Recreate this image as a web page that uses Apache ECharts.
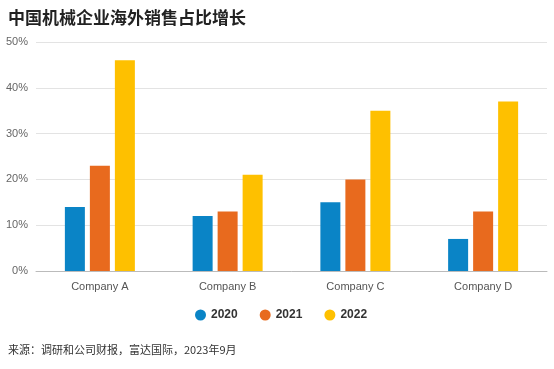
<!DOCTYPE html>
<html><head><meta charset="utf-8">
<script src="https://cdn.jsdelivr.net/npm/echarts@6/dist/echarts.min.js"></script>
<style>html,body{margin:0;padding:0;background:#fff}#c{width:554px;height:369px}</style>
</head><body><div id="c"></div>
<script>
const categories = ['Company A', 'Company B', 'Company C', 'Company D'];
const seriesNames = ['2020', '2021', '2022'];
const v2020 = [14, 12, 15, 7];
const v2021 = [23, 13, 20, 13];
const v2022 = [46, 21, 35, 37];
const yTicks = [0, 10, 20, 30, 40, 50];
const colors = ['#0a84c6', '#e86a1e', '#fec000'];
const chart = echarts.init(document.getElementById('c'));
const data = [v2020, v2021, v2022];
chart.setOption({
  animation: false,
  title: [
    {text: '中国机械企业海外销售占比增长', left: 3, top: 4,
     textStyle: {fontSize: 17, fontWeight: 'bold', color: '#222', fontFamily: 'Noto Sans CJK SC'}},
    {text: '来源：调研和公司财报，富达国际，2023年9月', left: 3, top: 339,
     textStyle: {fontSize: 11, fontWeight: 'normal', color: '#333', fontFamily: 'Noto Sans CJK SC'}}
  ],
  legend: {data: seriesNames, top: 304, left: 190, icon: 'circle', itemWidth: 11, itemHeight: 11, itemGap: 22,
    textStyle: {fontSize: 12, fontWeight: 'bold', color: '#333', fontFamily: 'Liberation Sans'}},
  grid: {left: 36, right: 7, top: 42, bottom: 98},
  xAxis: {type: 'category', data: categories,
    axisLine: {lineStyle: {color: '#bbb'}}, axisTick: {show: false},
    axisLabel: {color: '#555', fontSize: 11, margin: 10, fontFamily: 'Liberation Sans'}},
  yAxis: {type: 'value', min: 0, max: 50, interval: 10,
    axisLabel: {formatter: '{value}%', color: '#666', fontSize: 11, margin: 8, fontFamily: 'Liberation Sans'},
    splitLine: {lineStyle: {color: '#e3e3e3'}}, axisLine: {show: false}, axisTick: {show: false}},
  series: seriesNames.map((n, i) => ({
    name: n, type: 'bar', data: data[i], barWidth: 20, barGap: '25%',
    itemStyle: {color: colors[i]}
  }))
});
</script></body></html>
